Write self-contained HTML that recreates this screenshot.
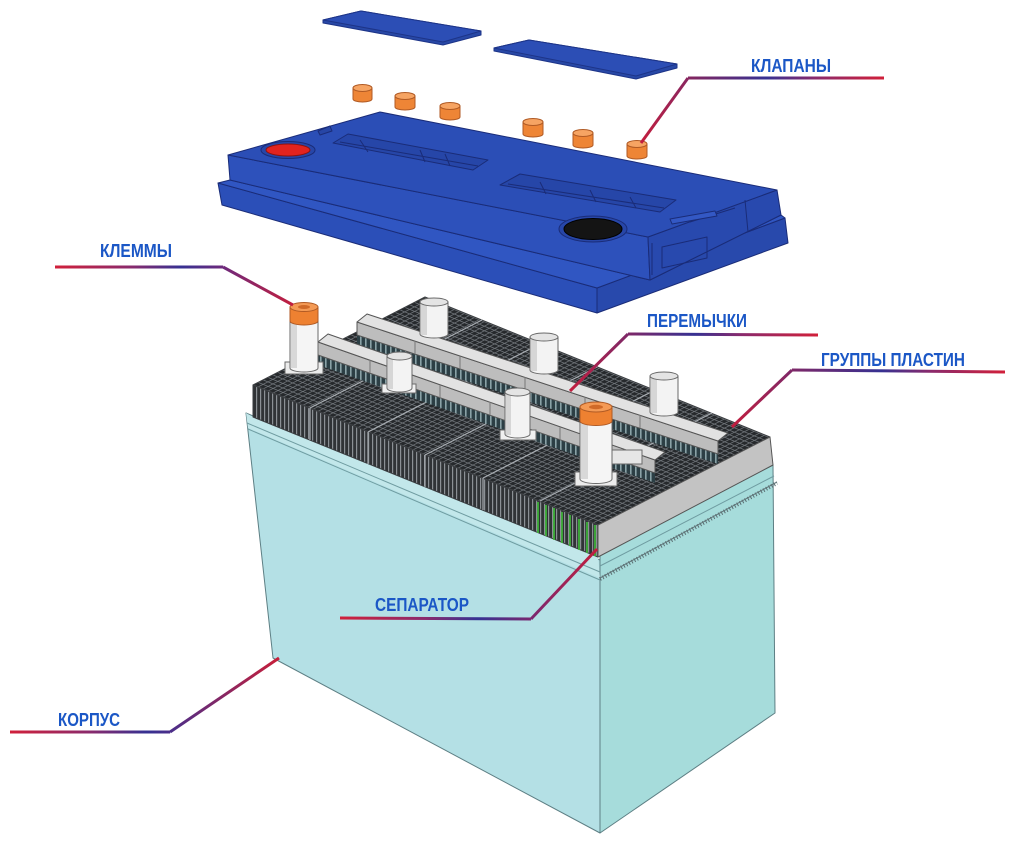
<!DOCTYPE html>
<html><head><meta charset="utf-8">
<style>
html,body{margin:0;padding:0;background:#fff;}
svg{display:block;}
.lbl{font-family:"Liberation Sans","Noto Sans CJK SC",sans-serif;font-weight:bold;fill:#1b57c6;font-size:18.5px;}
</style></head><body>
<svg width="1013" height="843" viewBox="0 0 1013 843" xmlns="http://www.w3.org/2000/svg">
<defs>
  <pattern id="grid" width="5" height="5" patternUnits="userSpaceOnUse" patternTransform="matrix(1 0.406 0.977 -0.5 0 0)">
    <rect width="5" height="5" fill="#26292c"/>
    <path d="M0 0.5H5M0.5 0V5" stroke="#70757a" stroke-width="0.9"/>
  </pattern>
  <pattern id="stripes" width="4" height="20" patternUnits="userSpaceOnUse">
    <rect width="4" height="20" fill="#303336"/>
    <rect x="0" width="1.2" height="20" fill="#8b9095"/>
  </pattern>
  <pattern id="lugs" width="5" height="20" patternUnits="userSpaceOnUse">
    <rect width="5" height="20" fill="#2c3f45"/>
    <rect x="0" width="1.6" height="20" fill="#8aa2a6"/>
  </pattern>
  <radialGradient id="fade" cx="760" cy="840" r="95" gradientUnits="userSpaceOnUse">
    <stop offset="0" stop-color="#fff" stop-opacity="1"/>
    <stop offset="0.6" stop-color="#fff" stop-opacity="0.6"/>
    <stop offset="1" stop-color="#fff" stop-opacity="0"/>
  </radialGradient>

  <linearGradient id="h1" gradientUnits="userSpaceOnUse" x1="884" y1="0" x2="688" y2="0">
    <stop offset="0" stop-color="#d1203a"/><stop offset="0.35" stop-color="#8a2a6c"/><stop offset="0.6" stop-color="#363192"/><stop offset="1" stop-color="#85265f"/>
  </linearGradient>
  <linearGradient id="d1" gradientUnits="userSpaceOnUse" x1="688" y1="78" x2="641" y2="143">
    <stop offset="0" stop-color="#8a2660"/><stop offset="1" stop-color="#c21e3e"/>
  </linearGradient>
  <linearGradient id="h2" gradientUnits="userSpaceOnUse" x1="55" y1="0" x2="223" y2="0">
    <stop offset="0" stop-color="#d1203a"/><stop offset="0.45" stop-color="#8a2a6c"/><stop offset="0.75" stop-color="#363192"/><stop offset="1" stop-color="#6e2a7c"/>
  </linearGradient>
  <linearGradient id="d2" gradientUnits="userSpaceOnUse" x1="223" y1="267" x2="293" y2="305">
    <stop offset="0" stop-color="#6e2a7c"/><stop offset="1" stop-color="#c21e3e"/>
  </linearGradient>
  <linearGradient id="h3" gradientUnits="userSpaceOnUse" x1="818" y1="0" x2="628" y2="0">
    <stop offset="0" stop-color="#d1203a"/><stop offset="0.4" stop-color="#8a2a6c"/><stop offset="0.65" stop-color="#363192"/><stop offset="1" stop-color="#7e2868"/>
  </linearGradient>
  <linearGradient id="d3" gradientUnits="userSpaceOnUse" x1="628" y1="334" x2="570" y2="391">
    <stop offset="0" stop-color="#7e2868"/><stop offset="1" stop-color="#c21e3e"/>
  </linearGradient>
  <linearGradient id="h4" gradientUnits="userSpaceOnUse" x1="1005" y1="0" x2="792" y2="0">
    <stop offset="0" stop-color="#d1203a"/><stop offset="0.35" stop-color="#8a2a6c"/><stop offset="0.58" stop-color="#363192"/><stop offset="1" stop-color="#7e2868"/>
  </linearGradient>
  <linearGradient id="d4" gradientUnits="userSpaceOnUse" x1="792" y1="370" x2="732" y2="427">
    <stop offset="0" stop-color="#7e2868"/><stop offset="1" stop-color="#c21e3e"/>
  </linearGradient>
  <linearGradient id="h5" gradientUnits="userSpaceOnUse" x1="340" y1="0" x2="531" y2="0">
    <stop offset="0" stop-color="#d1203a"/><stop offset="0.45" stop-color="#8a2a6c"/><stop offset="0.72" stop-color="#363192"/><stop offset="1" stop-color="#7a2870"/>
  </linearGradient>
  <linearGradient id="d5" gradientUnits="userSpaceOnUse" x1="531" y1="619" x2="597" y2="549">
    <stop offset="0" stop-color="#7a2870"/><stop offset="1" stop-color="#c21e3e"/>
  </linearGradient>
  <linearGradient id="h6" gradientUnits="userSpaceOnUse" x1="10" y1="0" x2="170" y2="0">
    <stop offset="0" stop-color="#d1203a"/><stop offset="0.5" stop-color="#8a2a6c"/><stop offset="0.85" stop-color="#363192"/><stop offset="1" stop-color="#4a2e8a"/>
  </linearGradient>
  <linearGradient id="d6" gradientUnits="userSpaceOnUse" x1="170" y1="732" x2="279" y2="658">
    <stop offset="0" stop-color="#4a2e8a"/><stop offset="1" stop-color="#c81f3a"/>
  </linearGradient>
</defs>

<!-- ===== VENT STRIPS ===== -->
<g stroke="#1d3488" stroke-width="1" stroke-linejoin="round">
  <polygon points="323,20 361,11 481,31 481,35 443,45 323,23" fill="#2848a6"/>
  <polygon points="323,20 361,11 481,31 443,42" fill="#2c4eb5"/>
  <polygon points="494,48 529,40 677,64 677,68 636,79 494,51" fill="#2848a6"/>
  <polygon points="494,48 529,40 677,64 636,76" fill="#2c4eb5"/>
</g>

<!-- ===== LID ===== -->
<g stroke="#1a2c78" stroke-width="1" stroke-linejoin="round">
  <polygon points="218,183 597,288 597,313 222,205" fill="#2b4fb8"/>
  <polygon points="597,288 785,218 788,243 597,313" fill="#2849ac"/>
  <polygon points="218,183 230,180 650,280 781,215 785,218 597,288" fill="#3056c2"/>
  <polygon points="228,155 648,237 650,280 230,180" fill="#2d51bb"/>
  <polygon points="648,237 777,190 781,215 650,280" fill="#2849ae"/>
  <polygon points="228,155 380,112 777,190 648,237" fill="#2b4eb6"/>
  <path d="M318,131 L330,126 L332,131 L320,135 Z" fill="#2746a6"/>
  <polygon points="333,143 348,134 488,160 473,170" fill="#2646a8"/>
  <path d="M340,142 L478,166 M360,140 L368,152 M420,150 L425,162 M445,154 L450,166" fill="none"/>
  <polygon points="500,185 520,174 676,200 660,212" fill="#2646a8"/>
  <path d="M508,184 L664,208 M540,182 L546,194 M590,190 L596,202 M630,197 L636,208" fill="none"/>
  <path d="M745,200 L748,232 M652,243 L652,275 M662,247 L707,237 L707,258 L662,268 Z M690,222 L735,208" fill="none"/>
  <path d="M670,219 L715,211 L717,216 L672,224 Z" fill="#3358c4"/>
  <ellipse cx="288" cy="150" rx="27" ry="8.5" fill="#2746a8"/>
  <ellipse cx="288" cy="150" rx="22" ry="6" fill="#e2231f" stroke="#8a1414"/>
  <ellipse cx="593" cy="229" rx="34" ry="13" fill="#2746a8"/>
  <ellipse cx="593" cy="229" rx="29" ry="10.5" fill="#141414" stroke="#000"/>
</g>

<!-- valve caps -->
<g stroke="#b05a24" stroke-width="1">
  <path d="M353,88 V99 A9.5,3 0 0 0 372,99 V88 Z" fill="#ee8536"/><ellipse cx="362.5" cy="88" rx="9.5" ry="3.5" fill="#f6a463"/>
  <path d="M395,96 V107 A10,3 0 0 0 415,107 V96 Z" fill="#ee8536"/><ellipse cx="405" cy="96" rx="10" ry="3.5" fill="#f6a463"/>
  <path d="M440,106 V117 A10,3 0 0 0 460,117 V106 Z" fill="#ee8536"/><ellipse cx="450" cy="106" rx="10" ry="3.5" fill="#f6a463"/>
  <path d="M523,122 V134 A10,3 0 0 0 543,134 V122 Z" fill="#ee8536"/><ellipse cx="533" cy="122" rx="10" ry="3.5" fill="#f6a463"/>
  <path d="M573,133 V145 A10,3 0 0 0 593,145 V133 Z" fill="#ee8536"/><ellipse cx="583" cy="133" rx="10" ry="3.5" fill="#f6a463"/>
  <path d="M627,144 V156 A10,3 0 0 0 647,156 V144 Z" fill="#ee8536"/><ellipse cx="637" cy="144" rx="10" ry="3.5" fill="#f6a463"/>
</g>

<!-- ===== CASE ===== -->
<g stroke="#5d7f84" stroke-width="1" stroke-linejoin="round">
  <polygon points="246,413 600,560 600,833 273,658" fill="#b4e0e5"/>
  <polygon points="600,553 773,465 775,713 600,833" fill="#a6dcdb"/>
</g>
<polygon points="246,413 253,417 598,557 600,578 248,428" fill="#c2e7ea" stroke="none"/>
<g fill="none" stroke="#6f9ca1" stroke-width="1">
  <path d="M247,423 L600,572"/>
  <path d="M248,429 L600,580"/>
  <path d="M600,566 L774,476"/>
</g>
<path d="M600,579 L777,483" stroke="#5a6e72" stroke-width="4" stroke-dasharray="1 2" fill="none"/>
<path d="M600,578 L777,482" stroke="#607478" stroke-width="1" fill="none"/>
<polygon points="640,843 700,770 775,713 800,713 800,843" fill="url(#fade)"/>

<!-- ===== PLATE BLOCK ===== -->
<g stroke="#3a3d40" stroke-width="1" stroke-linejoin="round">
  <polygon points="253,385 598,525 598,557 253,417" fill="url(#stripes)"/>
  <polygon points="253,385 425,297 770,437 598,525" fill="url(#grid)"/>
  <polygon points="598,525 770,437 773,465 598,557" fill="#c3c3c3" stroke="#555"/>
</g>
<g stroke="#a8adb2" stroke-width="1.2" fill="none">
  <path d="M310,408 L482,320 M368,432 L540,344 M425,455 L597,367 M483,478 L655,390 M540,501 L712,413"/>
  <path d="M310,408 V440 M368,432 V464 M425,455 V487 M483,478 V510"/>
</g>
<g stroke="#3fbf3a" stroke-width="1.6">
  <path d="M538,502 V533 M546,505 V536 M554,508 V540 M562,512 V543 M570,515 V546 M579,519 V550 M587,522 V553 M595,525 V556"/>
</g>

<!-- ===== BRIDGES & POSTS ===== -->
<g stroke="#555" stroke-width="1" stroke-linejoin="round">
  <polygon points="357,335 718,454 718,464 357,345" fill="url(#lugs)" stroke="none"/>
  <polygon points="357,322 718,441 718,454 357,335" fill="#bdbdbd"/>
  <polygon points="357,322 718,441 728,433 367,314" fill="#e2e2e2"/>
  <path d="M415,341 V354 M460,356 V369 M525,377 V390 M585,397 V410 M640,415 V428" fill="none" stroke="#777"/>
</g>
<g stroke="#6a6a6a" stroke-width="1">
  <path d="M420,302 V334 A14,4 0 0 0 448,334 V302 Z" fill="#f3f3f3"/>
  <rect x="421" y="304" width="6" height="31" fill="#d6d6d6" stroke="none"/>
  <ellipse cx="434" cy="302" rx="14" ry="4" fill="#e4e4e4"/>
  <path d="M530,337 V370 A14,4 0 0 0 558,370 V337 Z" fill="#f3f3f3"/>
  <rect x="531" y="339" width="6" height="32" fill="#d6d6d6" stroke="none"/>
  <ellipse cx="544" cy="337" rx="14" ry="4" fill="#e4e4e4"/>
  <path d="M650,376 V412 A14,4 0 0 0 678,412 V376 Z" fill="#f3f3f3"/>
  <rect x="651" y="378" width="6" height="35" fill="#d6d6d6" stroke="none"/>
  <ellipse cx="664" cy="376" rx="14" ry="4" fill="#e4e4e4"/>
</g>
<g stroke="#555" stroke-width="1" stroke-linejoin="round">
  <polygon points="318,355 655,473 655,483 318,365" fill="url(#lugs)" stroke="none"/>
  <polygon points="318,342 655,460 655,473 318,355" fill="#bdbdbd"/>
  <polygon points="318,342 655,460 665,452 328,334" fill="#e2e2e2"/>
  <path d="M370,360 V373 M440,385 V398 M490,402 V415 M560,427 V440 M625,449 V462" fill="none" stroke="#777"/>
</g>
<g stroke="#6a6a6a" stroke-width="1">
  <rect x="382" y="384" width="34" height="9" fill="#f0f0f0"/>
  <path d="M387,356 V388 A12.5,4 0 0 0 412,388 V356 Z" fill="#f3f3f3"/>
  <rect x="388" y="358" width="5" height="31" fill="#d6d6d6" stroke="none"/>
  <ellipse cx="399.5" cy="356" rx="12.5" ry="4" fill="#e4e4e4"/>
  <rect x="500" y="430" width="36" height="10" fill="#f0f0f0"/>
  <path d="M505,392 V434 A12.5,4 0 0 0 530,434 V392 Z" fill="#f3f3f3"/>
  <rect x="506" y="394" width="5" height="41" fill="#d6d6d6" stroke="none"/>
  <ellipse cx="517.5" cy="392" rx="12.5" ry="4" fill="#e4e4e4"/>
</g>
<g stroke="#6a6a6a" stroke-width="1">
  <rect x="285" y="362" width="38" height="12" fill="#ececec"/>
  <path d="M290,307 V368 A14,4 0 0 0 318,368 V307 Z" fill="#f5f5f5"/>
  <rect x="291" y="323" width="6" height="45" fill="#d8d8d8" stroke="none"/>
  <path d="M290,307 V321 A14,4 0 0 0 318,321 V307 Z" fill="#ee8131" stroke="#b05a24"/>
  <ellipse cx="304" cy="307" rx="14" ry="4.5" fill="#f49a55" stroke="#b05a24"/>
  <ellipse cx="304" cy="307" rx="6" ry="2" fill="#d06a28" stroke="none"/>

  <rect x="612" y="450" width="30" height="14" fill="#e6e6e6"/>
  <rect x="575" y="472" width="42" height="14" fill="#ececec"/>
  <path d="M580,407 V479 A16,4.5 0 0 0 612,479 V407 Z" fill="#f5f5f5"/>
  <rect x="581" y="423" width="7" height="56" fill="#d8d8d8" stroke="none"/>
  <path d="M580,407 V421 A16,4.5 0 0 0 612,421 V407 Z" fill="#ee8131" stroke="#b05a24"/>
  <ellipse cx="596" cy="407" rx="16" ry="5" fill="#f49a55" stroke="#b05a24"/>
  <ellipse cx="596" cy="407" rx="7" ry="2.2" fill="#d06a28" stroke="none"/>
</g>

<!-- ===== CONNECTORS ===== -->
<g fill="none" stroke-width="3" stroke-linecap="butt">
  <line x1="884" y1="78" x2="688" y2="78" stroke="url(#h1)"/>
  <line x1="688" y1="78" x2="641" y2="143" stroke="url(#d1)"/>
  <line x1="55" y1="267" x2="223" y2="267" stroke="url(#h2)"/>
  <line x1="223" y1="267" x2="293" y2="305" stroke="url(#d2)"/>
  <line x1="818" y1="335" x2="628" y2="334" stroke="url(#h3)"/>
  <line x1="628" y1="334" x2="570" y2="391" stroke="url(#d3)"/>
  <line x1="1005" y1="372" x2="792" y2="370" stroke="url(#h4)"/>
  <line x1="792" y1="370" x2="732" y2="427" stroke="url(#d4)"/>
  <line x1="340" y1="618" x2="531" y2="619" stroke="url(#h5)"/>
  <line x1="531" y1="619" x2="597" y2="549" stroke="url(#d5)"/>
  <line x1="10" y1="732" x2="170" y2="732" stroke="url(#h6)"/>
  <line x1="170" y1="732" x2="279" y2="658" stroke="url(#d6)"/>
</g>

<!-- ===== LABELS ===== -->
<text class="lbl" x="751" y="72" textLength="80" lengthAdjust="spacingAndGlyphs">КЛАПАНЫ</text>
<text class="lbl" x="647" y="327" textLength="100" lengthAdjust="spacingAndGlyphs">ПЕРЕМЫЧКИ</text>
<text class="lbl" x="821" y="366" textLength="144" lengthAdjust="spacingAndGlyphs">ГРУППЫ ПЛАСТИН</text>
<text class="lbl" x="100" y="257" textLength="72" lengthAdjust="spacingAndGlyphs">КЛЕММЫ</text>
<text class="lbl" x="375" y="611" textLength="94" lengthAdjust="spacingAndGlyphs">СЕПАРАТОР</text>
<text class="lbl" x="58" y="726" textLength="62" lengthAdjust="spacingAndGlyphs">КОРПУС</text>
</svg>
</body></html>
